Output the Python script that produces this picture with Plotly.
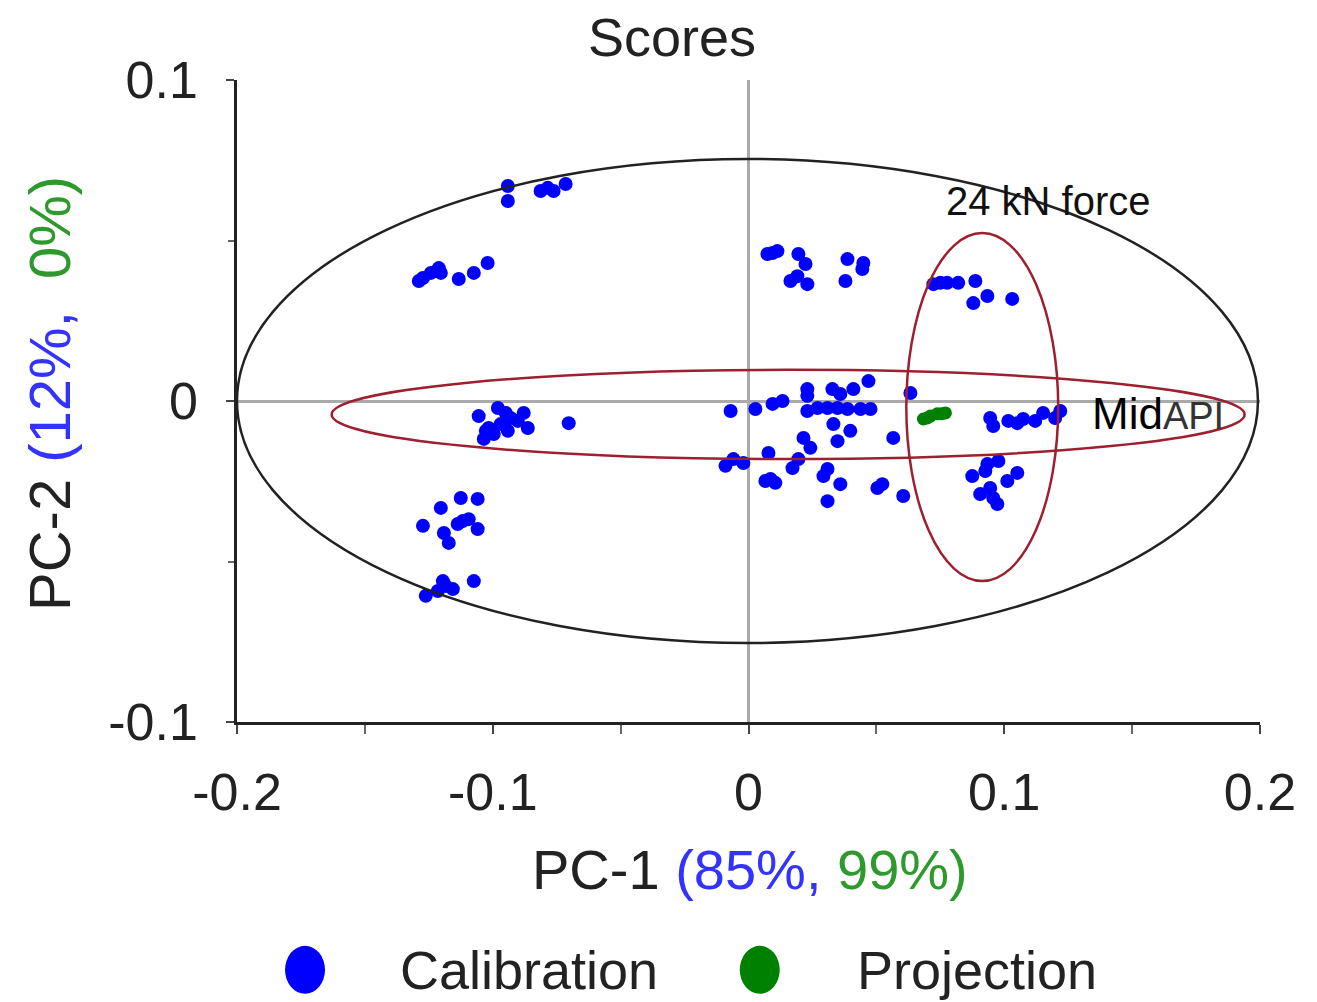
import plotly.graph_objects as go

# ---- data ----
calib_x = [-0.0941, -0.0941, -0.0785, -0.0762, -0.0715, -0.0813,
           -0.1273, -0.1289, -0.1242, -0.1211, -0.1203, -0.1133, -0.1074, -0.1020,
           -0.1055, -0.0980, -0.1016, -0.1035, -0.0969, -0.0930, -0.0879, -0.0863, -0.0703,
           -0.0996, -0.0941, -0.0902, -0.1027, -0.0949,
           -0.1203, -0.1125, -0.1059, -0.1273, -0.1191, -0.1172, -0.1137, -0.1094, -0.1059,
           -0.1117, -0.1195, -0.1262, -0.1156, -0.1074, -0.1215, -0.1184,
           0.0074, 0.0113, 0.0094, 0.0195, 0.0223, 0.0164, 0.0230, 0.0191, 0.0387, 0.0449, 0.0445, 0.0379,
           -0.0070, 0.0027, 0.0094, 0.0133, 0.0230, 0.0230, 0.0230, 0.0328, 0.0359, 0.0410, 0.0469,
           0.0270, 0.0309, 0.0348, 0.0387, 0.0438, 0.0477, 0.0633, 0.0332, 0.0398, 0.0348, 0.0215,
           0.0242, 0.0566, -0.0059, -0.0090, -0.0020, 0.0078, 0.0195, 0.0172, 0.0066, 0.0105,
           0.0086, 0.0293, 0.0309, 0.0359, 0.0309, 0.0504, 0.0523, 0.0605,
           0.0723, 0.0750, 0.0777, 0.0820, 0.0887, 0.0879, 0.0934, 0.1031,
           0.0945, 0.0957, 0.1016, 0.1051, 0.1074, 0.1121, 0.1152, 0.1199, 0.1219,
           0.0875, 0.0934, 0.0977, 0.1012, 0.1051, 0.0906, 0.0957, 0.0973, 0.0945, 0.0926]
calib_y = [0.0670, 0.0623, 0.0664, 0.0654, 0.0676, 0.0654,
           0.0383, 0.0374, 0.0399, 0.0414, 0.0399, 0.0380, 0.0399, 0.0430,
           -0.0047, -0.0022, -0.0084, -0.0118, -0.0072, -0.0053, -0.0037, -0.0084, -0.0069,
           -0.0103, -0.0093, -0.0062, -0.0093, -0.0037,
           -0.0333, -0.0302, -0.0305, -0.0389, -0.0411, -0.0442, -0.0383, -0.0368, -0.0399,
           -0.0374, -0.0561, -0.0607, -0.0586, -0.0561, -0.0592, -0.0576,
           0.0458, 0.0467, 0.0461, 0.0458, 0.0427, 0.0374, 0.0364, 0.0389, 0.0442, 0.0430, 0.0411, 0.0374,
           -0.0031, -0.0025, -0.0009, 0.0000, 0.0037, 0.0016, -0.0031, 0.0037, 0.0022, 0.0037, 0.0062,
           -0.0022, -0.0022, -0.0022, -0.0025, -0.0025, -0.0025, 0.0025, -0.0072, -0.0093, -0.0125, -0.0115,
           -0.0146, -0.0115, -0.0181, -0.0202, -0.0193, -0.0162, -0.0181, -0.0209, -0.0249, -0.0255,
           -0.0243, -0.0234, -0.0212, -0.0259, -0.0312, -0.0271, -0.0259, -0.0296,
           0.0364, 0.0368, 0.0368, 0.0368, 0.0374, 0.0305, 0.0327, 0.0318,
           -0.0053, -0.0078, -0.0062, -0.0069, -0.0056, -0.0062, -0.0037, -0.0053, -0.0031,
           -0.0234, -0.0196, -0.0187, -0.0249, -0.0224, -0.0290, -0.0302, -0.0321, -0.0271, -0.0218]
proj_x = [0.0684, 0.0711, 0.0738, 0.0770, 0.0699, 0.0754]
proj_y = [-0.0056, -0.0047, -0.0040, -0.0037, -0.0053, -0.0040]

x_ticks = [-0.2, -0.1, 0, 0.1, 0.2]
x_tick_labels = ["-0.2", "-0.1", "0", "0.1", "0.2"]
y_ticks = [-0.1, 0, 0.1]
y_tick_labels = ["-0.1", "0", "0.1"]

# ellipses (data coords): x0, x1, y0, y1
hotelling = (-0.2, 0.1992, -0.0754, 0.0754)
mid_api = (-0.163, 0.194, -0.0181, 0.0097)
force_24kn = (0.0617, 0.1211, -0.0561, 0.0523)

FONT = "Liberation Sans, Arial, sans-serif"
BLUE = "#0000ff"
GREEN = "#008000"
RED = "#9e1f2e"

fig = go.Figure()
fig.add_trace(go.Scatter(x=calib_x, y=calib_y, mode="markers", name="Calibration",
                         marker=dict(color=BLUE, size=14, line=dict(width=0))))
fig.add_trace(go.Scatter(x=proj_x, y=proj_y, mode="markers", name="Projection",
                         marker=dict(color=GREEN, size=13, line=dict(width=0))))

shapes = []
for (x0, x1, y0, y1), col in [(hotelling, "#222222"), (mid_api, RED), (force_24kn, RED)]:
    shapes.append(dict(type="circle", xref="x", yref="y", x0=x0, x1=x1, y0=y0, y1=y1,
                       line=dict(color=col, width=2.5), layer="above"))
# legend markers
for xa, col in [(0.0665, BLUE), (0.511, GREEN)]:
    shapes.append(dict(type="circle", xref="paper", yref="paper", xsizemode="pixel", ysizemode="pixel",
                       xanchor=xa, yanchor=-0.386, x0=-20, x1=20, y0=-24, y1=24,
                       fillcolor=col, line=dict(width=0)))

annotations = [
    dict(text="Scores", xref="paper", yref="paper", x=0.425, y=1.067, showarrow=False,
         xanchor="center", yanchor="middle",
         font=dict(family=FONT, size=54, color="#222")),
    dict(text="PC-1 <span style='color:#3333ff'>(85%,</span> <span style='color:#2e9a2e'>99%)</span>",
         xref="paper", yref="paper", x=0.5015, y=-0.2305, showarrow=False,
         xanchor="center", yanchor="middle",
         font=dict(family=FONT, size=56, color="#222")),
    dict(text="PC-2 <span style='color:#3333ff'>(12%,</span>  <span style='color:#2e9a2e'>0%)</span>",
         xref="paper", yref="paper", x=-0.1828, y=0.5125, showarrow=False, textangle=-90,
         xanchor="center", yanchor="middle",
         font=dict(family=FONT, size=58, color="#222")),
    dict(text="24 kN force", xref="x", yref="y", x=0.1172, y=0.0623, showarrow=False,
         xanchor="center", yanchor="middle",
         font=dict(family=FONT, size=40, color="#111")),
    dict(text="Mid<span style='font-size:38px;color:#333'>API</span>", xref="x", yref="y",
         x=0.1336, y=-0.0040, xanchor="left", yanchor="middle", showarrow=False,
         font=dict(family=FONT, size=44, color="#000")),
    dict(text="Calibration", xref="paper", yref="paper", x=0.157, y=-0.386, xanchor="left",
         yanchor="middle", showarrow=False, font=dict(family=FONT, size=54, color="#222")),
    dict(text="Projection", xref="paper", yref="paper", x=0.604, y=-0.386, xanchor="left",
         yanchor="middle", showarrow=False, font=dict(family=FONT, size=54, color="#222")),
]

fig.update_layout(
    width=1317, height=1002,
    margin=dict(l=237, r=57, t=80, b=280),
    paper_bgcolor="white", plot_bgcolor="white",
    showlegend=False,
    shapes=shapes, annotations=annotations,
    xaxis=dict(range=[-0.2, 0.2], tickvals=x_ticks, ticktext=x_tick_labels,
               showgrid=False, zeroline=True, zerolinecolor="#aaaaaa", zerolinewidth=3,
               showline=True, linecolor="#222", linewidth=2.5,
               ticks="outside", ticklen=9, tickwidth=2, tickcolor="#444",
               minor=dict(dtick=0.05, tick0=0, ticks="outside", ticklen=9, tickwidth=1.5, tickcolor="#666"),
               ticklabelstandoff=14,
               tickfont=dict(family=FONT, size=52, color="#222")),
    yaxis=dict(range=[-0.1, 0.1], tickvals=y_ticks, ticktext=y_tick_labels,
               showgrid=False, zeroline=True, zerolinecolor="#aaaaaa", zerolinewidth=3,
               showline=True, linecolor="#222", linewidth=2.5,
               ticks="outside", ticklen=8, tickwidth=2, tickcolor="#444",
               minor=dict(dtick=0.05, tick0=0, ticks="outside", ticklen=6, tickwidth=1.5, tickcolor="#666"),
               ticklabelstandoff=18,
               tickfont=dict(family=FONT, size=52, color="#222")),
)

fig.write_html("out.html")
